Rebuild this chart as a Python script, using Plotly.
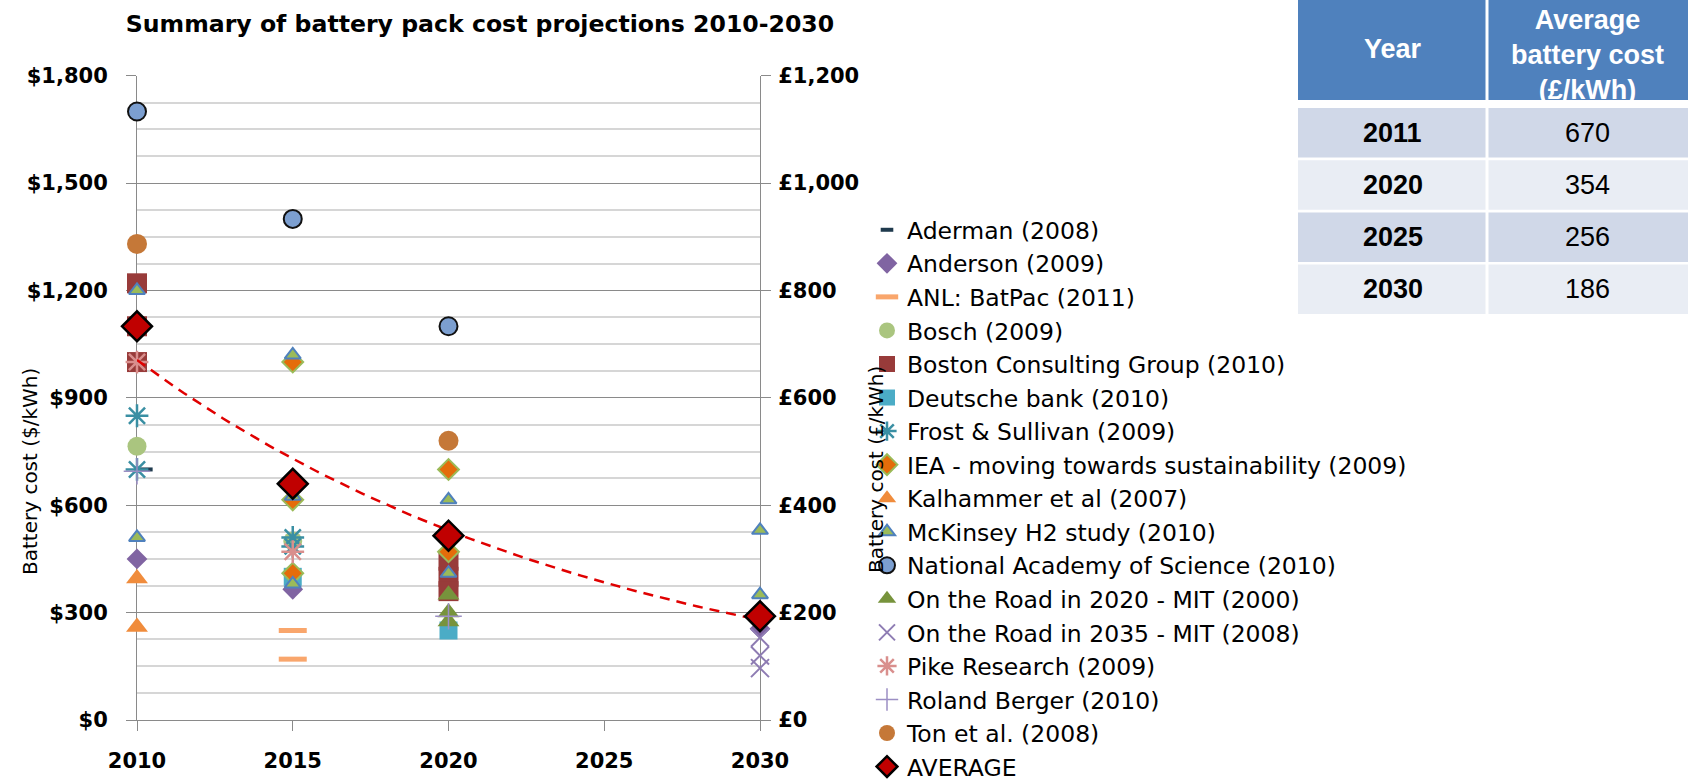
import numpy as np
import plotly.graph_objects as go

W, H = 1688, 781

# ---------------- data ----------------
aderman_x = [2010.3]
aderman_y = [700]
anderson_x = [2010, 2015, 2030]
anderson_y = [450, 365, 255]
anl_x = [2015, 2015]
anl_y = [250, 170]
bosch_x = [2010, 2015]
bosch_y = [765, 500]
bcg_x = [2010, 2010, 2010, 2020, 2020, 2020]
bcg_y = [1220, 1100, 1000, 445, 400, 360]
deutsche_x = [2015, 2020]
deutsche_y = [400, 250]
frost_x = [2010, 2010, 2015, 2015]
frost_y = [850, 700, 510, 485]
iea_x = [2015, 2015, 2015, 2020, 2020]
iea_y = [1000, 615, 410, 700, 470]
kalhammer_x = [2010, 2010]
kalhammer_y = [395, 260]
mckinsey_x = [2010, 2010, 2015, 2015, 2015, 2020, 2020, 2030, 2030]
mckinsey_y = [1200, 510, 1020, 625, 380, 615, 410, 530, 350]
nas_x = [2010, 2015, 2020]
nas_y = [1700, 1400, 1100]
otr2020_x = [2020, 2020, 2020]
otr2020_y = [350, 300, 275]
otr2035_x = [2030, 2030, 2030]
otr2035_y = [230, 180, 145]
pike_x = [2010, 2015]
pike_y = [1000, 470]
roland_x = [2010, 2020]
roland_y = [695, 290]
ton_x = [2010, 2020]
ton_y = [1330, 780]
average_x = [2010, 2015, 2020, 2030]
average_y = [1100, 660, 515, 290]

year_ticks = [2010, 2015, 2020, 2025, 2030]

table_header = ["Year", "Average<br>battery cost<br>(£/kWh)"]
table_years = ["2011", "2020", "2025", "2030"]
table_costs = [670, 354, 256, 186]


def px_x(p):
    return p / W


def px_y(p):
    return 1 - p / H


fig = go.Figure()

series = [
    ("Aderman (2008)", aderman_x, aderman_y,
     dict(symbol="line-ew", size=9, color="#1F3A4D", line=dict(width=4, color="#1F3A4D"))),
    ("Anderson (2009)", anderson_x, anderson_y,
     dict(symbol="diamond", size=16, color="#8064A2", line=dict(width=0))),
    ("ANL: BatPac (2011)", anl_x, anl_y,
     dict(symbol="line-ew", size=20, color="#F9A66C", line=dict(width=5, color="#F9A66C"))),
    ("Bosch (2009)", bosch_x, bosch_y,
     dict(symbol="circle", size=19, color="#AAC57F", line=dict(width=0))),
    ("Boston Consulting Group (2010)", bcg_x, bcg_y,
     dict(symbol="square", size=20, color="#983B3A", line=dict(width=0))),
    ("Deutsche bank (2010)", deutsche_x, deutsche_y,
     dict(symbol="square", size=18, color="#4BACC6", line=dict(width=0))),
    ("Frost & Sullivan (2009)", frost_x, frost_y,
     dict(symbol="asterisk-open", size=19, color="#3A8FA3", line=dict(width=2.5, color="#3A8FA3"))),
    ("IEA - moving towards sustainability (2009)", iea_x, iea_y,
     dict(symbol="diamond", size=16, color="#E46C0A", line=dict(width=2, color="#9BBB59"))),
    ("Kalhammer et al (2007)", kalhammer_x, kalhammer_y,
     dict(symbol="triangle-up", size=19, color="#F08C3C", line=dict(width=0))),
    ("McKinsey H2 study (2010)", mckinsey_x, mckinsey_y,
     dict(symbol="triangle-up", size=14, color="#9BBB59", line=dict(width=2, color="#4F81BD"))),
    ("National Academy of Science (2010)", nas_x, nas_y,
     dict(symbol="circle", size=18, color="#7C9FD0", line=dict(width=2, color="#111111"))),
    ("On the Road in 2020 - MIT (2000)", otr2020_x, otr2020_y,
     dict(symbol="triangle-up", size=19, color="#77933C", line=dict(width=0))),
    ("On the Road in 2035 - MIT (2008)", otr2035_x, otr2035_y,
     dict(symbol="x-thin-open", size=18, color="#8E7CB3", line=dict(width=2, color="#8E7CB3"))),
    ("Pike Research (2009)", pike_x, pike_y,
     dict(symbol="asterisk-open", size=19, color="#D98F8D", line=dict(width=2.5, color="#D98F8D"))),
    ("Roland Berger (2010)", roland_x, roland_y,
     dict(symbol="cross-thin-open", size=19, color="#9C8FC4", line=dict(width=1.5, color="#9C8FC4"))),
    ("Ton et al. (2008)", ton_x, ton_y,
     dict(symbol="circle", size=20, color="#C57838", line=dict(width=0))),
]

for name, xs, ys, mk in series:
    fig.add_trace(go.Scatter(x=xs, y=ys, mode="markers", name=name, marker=mk,
                             cliponaxis=False))

# exponential trend line fitted to the AVERAGE series
coef = np.polyfit(np.array(average_x, float), np.log(np.array(average_y, float)), 1)
tx = np.linspace(average_x[0], average_x[-1], 81)
ty = np.exp(np.polyval(coef, tx))
fig.add_trace(go.Scatter(x=tx, y=ty, mode="lines", showlegend=False, hoverinfo="skip",
                         line=dict(color="#E00000", width=2.5, dash="10px,7px")))

fig.add_trace(go.Scatter(x=average_x, y=average_y, mode="markers", name="AVERAGE",
                         cliponaxis=False,
                         marker=dict(symbol="diamond", size=23, color="#C00000",
                                     line=dict(width=2.5, color="#000000"))))

# secondary axis carrier (pound scale)
fig.add_trace(go.Scatter(x=[year_ticks[0]], y=[0], yaxis="y2", mode="markers",
                         marker=dict(opacity=0), showlegend=False, hoverinfo="skip"))

grid_major = "#8A8A8A"
grid_minor = "#D6D6D6"
tick_font = dict(family="DejaVu Sans", size=21, color="black", weight="bold")

# ---------------- summary table (shapes + text) ----------------
tbl_left, tbl_mid, tbl_right = 1298, 1487, 1688
gap = 3
header_bottom = 100
row_top0, row_pitch, row_h = 108, 52.2, 49.5
row_fill = ["#D0D8E8", "#E9EDF4"]
shapes = []
annotations = []
for (x0, x1) in [(tbl_left, tbl_mid - gap / 2), (tbl_mid + gap / 2, tbl_right)]:
    shapes.append(dict(type="rect", xref="paper", yref="paper", layer="below",
                       x0=px_x(x0), x1=px_x(x1), y0=px_y(header_bottom), y1=px_y(0),
                       fillcolor="#4F81BD", line=dict(width=0)))
    for i in range(len(table_years)):
        top = row_top0 + i * row_pitch
        shapes.append(dict(type="rect", xref="paper", yref="paper", layer="below",
                           x0=px_x(x0), x1=px_x(x1), y0=px_y(top + row_h), y1=px_y(top),
                           fillcolor=row_fill[i % 2], line=dict(width=0)))
col1_c = (tbl_left + tbl_mid) / 2
col2_c = (tbl_mid + tbl_right) / 2
annotations.append(dict(text="<b>%s</b>" % table_header[0], xref="paper", yref="paper",
                        x=px_x(col1_c), y=px_y(49), showarrow=False,
                        xanchor="center", yanchor="middle",
                        font=dict(family="Liberation Sans", size=27, color="white")))
annotations.append(dict(text="<b>%s</b>" % table_header[1], xref="paper", yref="paper",
                        x=px_x(col2_c), y=px_y(55), showarrow=False,
                        xanchor="center", yanchor="middle",
                        font=dict(family="Liberation Sans", size=27, color="white")))
for i, (yr, cost) in enumerate(zip(table_years, table_costs)):
    cy = row_top0 + i * row_pitch + row_h / 2
    annotations.append(dict(text="<b>%s</b>" % yr, xref="paper", yref="paper",
                            x=px_x(col1_c), y=px_y(cy), showarrow=False,
                            xanchor="center", yanchor="middle",
                            font=dict(family="Liberation Sans", size=27, color="black")))
    annotations.append(dict(text=str(cost), xref="paper", yref="paper",
                            x=px_x(col2_c), y=px_y(cy), showarrow=False,
                            xanchor="center", yanchor="middle",
                            font=dict(family="Liberation Sans", size=27, color="black")))

annotations += [
    dict(text="Battery cost ($/kWh)", xref="paper", yref="paper",
         x=px_x(30), y=px_y(472), textangle=-90, showarrow=False,
         xanchor="center", yanchor="middle",
         font=dict(family="DejaVu Sans", size=20, color="black")),
    dict(text="Battery cost (£/kWh)", xref="paper", yref="paper",
         x=px_x(876), y=px_y(470), textangle=-90, showarrow=False,
         xanchor="center", yanchor="middle",
         font=dict(family="DejaVu Sans", size=20, color="black")),
]

fig.update_layout(
    width=W, height=H,
    margin=dict(l=0, r=0, t=0, b=0, autoexpand=False),
    paper_bgcolor="white", plot_bgcolor="white",
    title=dict(text="Summary of battery pack cost projections 2010-2030",
               x=px_x(480), y=px_y(24), xanchor="center", yanchor="middle",
               font=dict(family="DejaVu Sans", size=23.6, color="black", weight="bold")),
    xaxis=dict(domain=[px_x(137), px_x(760)], range=[2010, 2030], automargin=False,
               tickvals=year_ticks, ticks="outside", ticklen=10, tickcolor=grid_major,
               showgrid=False, showline=True, linecolor=grid_major, linewidth=1,
               tickfont=tick_font, ticklabelstandoff=12, zeroline=False,
               layer="below traces"),
    yaxis=dict(domain=[px_y(720), px_y(75.7)], range=[0, 1800], dtick=300, automargin=False,
               tickprefix="$", tickformat=",d", ticks="outside", ticklen=10,
               tickcolor=grid_major, showgrid=True, gridcolor=grid_major, gridwidth=1,
               showline=True, linecolor=grid_major, linewidth=1, zeroline=False,
               minor=dict(dtick=75, showgrid=True, gridcolor=grid_minor, gridwidth=1.5),
               tickfont=tick_font, ticklabelstandoff=14, layer="below traces"),
    yaxis2=dict(overlaying="y", side="right", anchor="x", range=[0, 1200], dtick=200,
                automargin=False,
                tickprefix="£", tickformat=",d", ticks="outside", ticklen=10,
                tickcolor=grid_major, showgrid=False, showline=True,
                linecolor=grid_major, linewidth=1, zeroline=False,
                tickfont=tick_font, ticklabelstandoff=3, layer="below traces"),
    legend=dict(x=px_x(867), y=px_y(208), xanchor="left", yanchor="top",
                font=dict(family="DejaVu Sans", size=23.5, color="black"),
                bgcolor="rgba(0,0,0,0)", tracegroupgap=0),
    shapes=shapes,
    annotations=annotations,
)

fig.write_html("out.html",
               config={"displayModeBar": False},
               post_script="document.body.style.margin='0';"
                           "document.body.style.overflow='hidden';")
